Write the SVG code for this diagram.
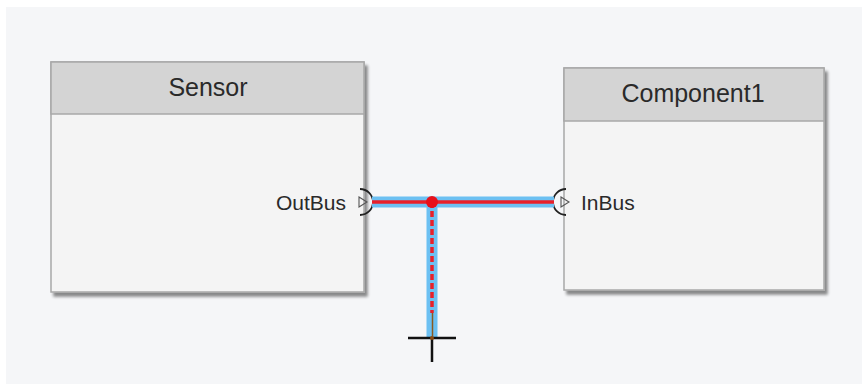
<svg xmlns="http://www.w3.org/2000/svg" width="862" height="384" viewBox="0 0 862 384">
  <defs>
    <filter id="sh" x="-5%" y="-5%" width="115%" height="115%">
      <feGaussianBlur in="SourceAlpha" stdDeviation="1.5"/>
      <feOffset dx="3" dy="4"/>
      <feComponentTransfer><feFuncA type="linear" slope="0.45"/></feComponentTransfer>
      <feMerge><feMergeNode/><feMergeNode in="SourceGraphic"/></feMerge>
    </filter>
  </defs>
  <style>
    .body{fill:#f4f4f4;stroke:#a8a8a8;stroke-width:1.5}
    .head{fill:#d4d4d4;stroke:#a8a8a8;stroke-width:1.5}
    .title{font-family:"Liberation Sans",Arial,sans-serif;font-size:25px;fill:#2a2a2a;text-anchor:middle}
    .plabel{font-family:"Liberation Sans",Arial,sans-serif;font-size:21px;fill:#2a2a2a}
    .arc{fill:none;stroke:#222;stroke-width:1.8}
    .tri{fill:none;stroke:#555;stroke-width:1.1}
    .halo{stroke:#6cc0f2;stroke-width:11;fill:none}
    .core{stroke:#e8202a;stroke-width:3.5;fill:none}
  </style>
  <rect x="0" y="0" width="862" height="384" fill="#ffffff"/>
  <rect x="6" y="7" width="856" height="377" fill="#f5f6f8"/>

  <g id="sensor">
    <g filter="url(#sh)">
      <rect class="body" x="51" y="62" width="313" height="230"/>
    </g>
    <rect class="head" x="51" y="62" width="313" height="52"/>
    <text class="title" x="208" y="96">Sensor</text>
    <g id="port-outbus">
      <path class="arc" d="M360,189 A13,13 0 0 1 360,215"/>
      <path class="tri" d="M359,197 L367,202 L359,207 Z"/>
      <text class="plabel" x="346" y="210" text-anchor="end">OutBus</text>
    </g>
  </g>

  <g id="component1">
    <g filter="url(#sh)">
      <rect class="body" x="564" y="68" width="260" height="222"/>
    </g>
    <rect class="head" x="564" y="68" width="260" height="53"/>
    <text class="title" x="693" y="102">Component1</text>
    <g id="port-inbus">
      <path class="arc" d="M566,189 A13,13 0 0 0 566,215"/>
      <path class="tri" d="M561,197 L569,202 L561,207 Z"/>
      <text class="plabel" x="581" y="210">InBus</text>
    </g>
  </g>

  <g id="connectors">
    <line class="halo" x1="372" y1="202" x2="554" y2="202"/>
    <line class="halo" x1="432" y1="202" x2="432" y2="337" stroke-width="9"/>
    <line class="core" x1="372" y1="202" x2="554" y2="202"/>
    <line class="core" x1="432" y1="202" x2="432" y2="313" stroke-dasharray="6,3" stroke-width="1.8"/>
    <circle cx="432" cy="202" r="6" fill="#e8101a"/>
  </g>

  <g id="cursor">
    <line x1="432.5" y1="313" x2="432.5" y2="336" stroke="#8a5a20" stroke-width="1.5"/>
    <line x1="408" y1="338" x2="456" y2="338" stroke="#111" stroke-width="2.5"/>
    <line x1="432" y1="338" x2="432" y2="362" stroke="#111" stroke-width="2.5"/>
    <circle cx="432" cy="338" r="2" fill="#8a4a10"/>
  </g>
</svg>
